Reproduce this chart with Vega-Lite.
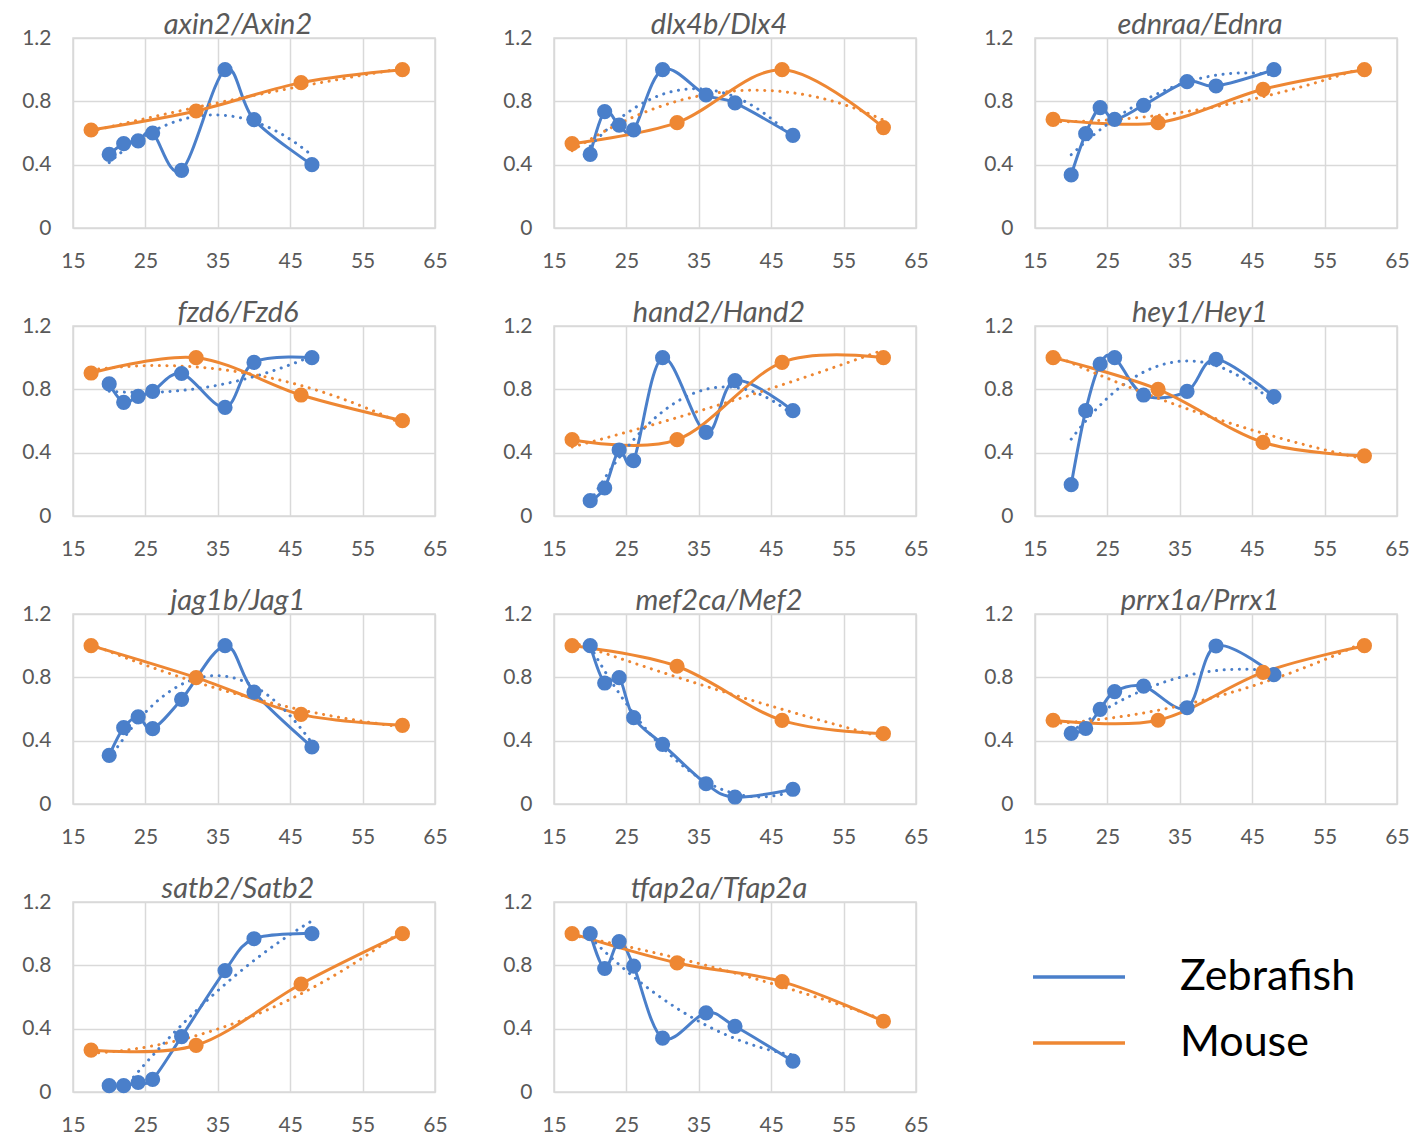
{
  "$schema": "https://vega.github.io/schema/vega-lite/v6.json",
  "background": "white",
  "padding": {"left": 20, "top": 10, "right": 5, "bottom": 5},
  "columns": 3,
  "spacing": {"row": 98, "column": 119},
  "bounds": "flush",
  "config": {
    "font": "Lato",
    "view": {"stroke": "#d9d9d9", "strokeWidth": 1.5},
    "axis": {"grid": true, "gridColor": "#d9d9d9", "gridWidth": 1.5, "domain": false, "ticks": false, "tickSize": 0, "labelFont": "Lato", "labelFontSize": 21, "labelColor": "#595959", "title": null, "labelPadding": 22, "labelFlush": false},
    "title": {"font": "Lato", "fontSize": 29, "fontStyle": "italic", "fontWeight": "normal", "color": "#595959", "baseline": "alphabetic", "offset": 1, "anchor": "middle", "dx": -16, "dy": 14}
  },
  "data": {"values": [
    {"gene": "axin2/Axin2", "species": "Zebrafish", "age": 20, "expr": 0.465},
    {"gene": "axin2/Axin2", "species": "Zebrafish", "age": 22, "expr": 0.533},
    {"gene": "axin2/Axin2", "species": "Zebrafish", "age": 24, "expr": 0.55},
    {"gene": "axin2/Axin2", "species": "Zebrafish", "age": 26, "expr": 0.6},
    {"gene": "axin2/Axin2", "species": "Zebrafish", "age": 30, "expr": 0.364},
    {"gene": "axin2/Axin2", "species": "Zebrafish", "age": 36, "expr": 1.0},
    {"gene": "axin2/Axin2", "species": "Zebrafish", "age": 40, "expr": 0.684},
    {"gene": "axin2/Axin2", "species": "Zebrafish", "age": 48, "expr": 0.4},
    {"gene": "axin2/Axin2", "species": "Mouse", "age": 17.5, "expr": 0.619},
    {"gene": "axin2/Axin2", "species": "Mouse", "age": 32, "expr": 0.739},
    {"gene": "axin2/Axin2", "species": "Mouse", "age": 46.5, "expr": 0.918},
    {"gene": "axin2/Axin2", "species": "Mouse", "age": 60.5, "expr": 1.0},
    {"gene": "dlx4b/Dlx4", "species": "Zebrafish", "age": 20, "expr": 0.465},
    {"gene": "dlx4b/Dlx4", "species": "Zebrafish", "age": 22, "expr": 0.735},
    {"gene": "dlx4b/Dlx4", "species": "Zebrafish", "age": 24, "expr": 0.65},
    {"gene": "dlx4b/Dlx4", "species": "Zebrafish", "age": 26, "expr": 0.62},
    {"gene": "dlx4b/Dlx4", "species": "Zebrafish", "age": 30, "expr": 1.0},
    {"gene": "dlx4b/Dlx4", "species": "Zebrafish", "age": 36, "expr": 0.84},
    {"gene": "dlx4b/Dlx4", "species": "Zebrafish", "age": 40, "expr": 0.79},
    {"gene": "dlx4b/Dlx4", "species": "Zebrafish", "age": 48, "expr": 0.585},
    {"gene": "dlx4b/Dlx4", "species": "Mouse", "age": 17.5, "expr": 0.533},
    {"gene": "dlx4b/Dlx4", "species": "Mouse", "age": 32, "expr": 0.665},
    {"gene": "dlx4b/Dlx4", "species": "Mouse", "age": 46.5, "expr": 1.0},
    {"gene": "dlx4b/Dlx4", "species": "Mouse", "age": 60.5, "expr": 0.634},
    {"gene": "ednraa/Ednra", "species": "Zebrafish", "age": 20, "expr": 0.335},
    {"gene": "ednraa/Ednra", "species": "Zebrafish", "age": 22, "expr": 0.596},
    {"gene": "ednraa/Ednra", "species": "Zebrafish", "age": 24, "expr": 0.76},
    {"gene": "ednraa/Ednra", "species": "Zebrafish", "age": 26, "expr": 0.686},
    {"gene": "ednraa/Ednra", "species": "Zebrafish", "age": 30, "expr": 0.775},
    {"gene": "ednraa/Ednra", "species": "Zebrafish", "age": 36, "expr": 0.924},
    {"gene": "ednraa/Ednra", "species": "Zebrafish", "age": 40, "expr": 0.897},
    {"gene": "ednraa/Ednra", "species": "Zebrafish", "age": 48, "expr": 1.0},
    {"gene": "ednraa/Ednra", "species": "Mouse", "age": 17.5, "expr": 0.686},
    {"gene": "ednraa/Ednra", "species": "Mouse", "age": 32, "expr": 0.665},
    {"gene": "ednraa/Ednra", "species": "Mouse", "age": 46.5, "expr": 0.876},
    {"gene": "ednraa/Ednra", "species": "Mouse", "age": 60.5, "expr": 1.0},
    {"gene": "fzd6/Fzd6", "species": "Zebrafish", "age": 20, "expr": 0.834},
    {"gene": "fzd6/Fzd6", "species": "Zebrafish", "age": 22, "expr": 0.718},
    {"gene": "fzd6/Fzd6", "species": "Zebrafish", "age": 24, "expr": 0.756},
    {"gene": "fzd6/Fzd6", "species": "Zebrafish", "age": 26, "expr": 0.787},
    {"gene": "fzd6/Fzd6", "species": "Zebrafish", "age": 30, "expr": 0.9},
    {"gene": "fzd6/Fzd6", "species": "Zebrafish", "age": 36, "expr": 0.686},
    {"gene": "fzd6/Fzd6", "species": "Zebrafish", "age": 40, "expr": 0.97},
    {"gene": "fzd6/Fzd6", "species": "Zebrafish", "age": 48, "expr": 1.0},
    {"gene": "fzd6/Fzd6", "species": "Mouse", "age": 17.5, "expr": 0.903},
    {"gene": "fzd6/Fzd6", "species": "Mouse", "age": 32, "expr": 1.0},
    {"gene": "fzd6/Fzd6", "species": "Mouse", "age": 46.5, "expr": 0.764},
    {"gene": "fzd6/Fzd6", "species": "Mouse", "age": 60.5, "expr": 0.602},
    {"gene": "hand2/Hand2", "species": "Zebrafish", "age": 20, "expr": 0.097},
    {"gene": "hand2/Hand2", "species": "Zebrafish", "age": 22, "expr": 0.177},
    {"gene": "hand2/Hand2", "species": "Zebrafish", "age": 24, "expr": 0.417},
    {"gene": "hand2/Hand2", "species": "Zebrafish", "age": 26, "expr": 0.35},
    {"gene": "hand2/Hand2", "species": "Zebrafish", "age": 30, "expr": 1.0},
    {"gene": "hand2/Hand2", "species": "Zebrafish", "age": 36, "expr": 0.528},
    {"gene": "hand2/Hand2", "species": "Zebrafish", "age": 40, "expr": 0.855},
    {"gene": "hand2/Hand2", "species": "Zebrafish", "age": 48, "expr": 0.665},
    {"gene": "hand2/Hand2", "species": "Mouse", "age": 17.5, "expr": 0.482},
    {"gene": "hand2/Hand2", "species": "Mouse", "age": 32, "expr": 0.482},
    {"gene": "hand2/Hand2", "species": "Mouse", "age": 46.5, "expr": 0.97},
    {"gene": "hand2/Hand2", "species": "Mouse", "age": 60.5, "expr": 1.0},
    {"gene": "hey1/Hey1", "species": "Zebrafish", "age": 20, "expr": 0.198},
    {"gene": "hey1/Hey1", "species": "Zebrafish", "age": 22, "expr": 0.665},
    {"gene": "hey1/Hey1", "species": "Zebrafish", "age": 24, "expr": 0.96},
    {"gene": "hey1/Hey1", "species": "Zebrafish", "age": 26, "expr": 1.0},
    {"gene": "hey1/Hey1", "species": "Zebrafish", "age": 30, "expr": 0.764},
    {"gene": "hey1/Hey1", "species": "Zebrafish", "age": 36, "expr": 0.787},
    {"gene": "hey1/Hey1", "species": "Zebrafish", "age": 40, "expr": 0.99},
    {"gene": "hey1/Hey1", "species": "Zebrafish", "age": 48, "expr": 0.754},
    {"gene": "hey1/Hey1", "species": "Mouse", "age": 17.5, "expr": 1.0},
    {"gene": "hey1/Hey1", "species": "Mouse", "age": 32, "expr": 0.8},
    {"gene": "hey1/Hey1", "species": "Mouse", "age": 46.5, "expr": 0.465},
    {"gene": "hey1/Hey1", "species": "Mouse", "age": 60.5, "expr": 0.38},
    {"gene": "jag1b/Jag1", "species": "Zebrafish", "age": 20, "expr": 0.307},
    {"gene": "jag1b/Jag1", "species": "Zebrafish", "age": 22, "expr": 0.482},
    {"gene": "jag1b/Jag1", "species": "Zebrafish", "age": 24, "expr": 0.55},
    {"gene": "jag1b/Jag1", "species": "Zebrafish", "age": 26, "expr": 0.476},
    {"gene": "jag1b/Jag1", "species": "Zebrafish", "age": 30, "expr": 0.661},
    {"gene": "jag1b/Jag1", "species": "Zebrafish", "age": 36, "expr": 1.0},
    {"gene": "jag1b/Jag1", "species": "Zebrafish", "age": 40, "expr": 0.707},
    {"gene": "jag1b/Jag1", "species": "Zebrafish", "age": 48, "expr": 0.36},
    {"gene": "jag1b/Jag1", "species": "Mouse", "age": 17.5, "expr": 1.0},
    {"gene": "jag1b/Jag1", "species": "Mouse", "age": 32, "expr": 0.798},
    {"gene": "jag1b/Jag1", "species": "Mouse", "age": 46.5, "expr": 0.566},
    {"gene": "jag1b/Jag1", "species": "Mouse", "age": 60.5, "expr": 0.497},
    {"gene": "mef2ca/Mef2", "species": "Zebrafish", "age": 20, "expr": 1.0},
    {"gene": "mef2ca/Mef2", "species": "Zebrafish", "age": 22, "expr": 0.764},
    {"gene": "mef2ca/Mef2", "species": "Zebrafish", "age": 24, "expr": 0.798},
    {"gene": "mef2ca/Mef2", "species": "Zebrafish", "age": 26, "expr": 0.545},
    {"gene": "mef2ca/Mef2", "species": "Zebrafish", "age": 30, "expr": 0.377},
    {"gene": "mef2ca/Mef2", "species": "Zebrafish", "age": 36, "expr": 0.128},
    {"gene": "mef2ca/Mef2", "species": "Zebrafish", "age": 40, "expr": 0.044},
    {"gene": "mef2ca/Mef2", "species": "Zebrafish", "age": 48, "expr": 0.093},
    {"gene": "mef2ca/Mef2", "species": "Mouse", "age": 17.5, "expr": 1.0},
    {"gene": "mef2ca/Mef2", "species": "Mouse", "age": 32, "expr": 0.87},
    {"gene": "mef2ca/Mef2", "species": "Mouse", "age": 46.5, "expr": 0.528},
    {"gene": "mef2ca/Mef2", "species": "Mouse", "age": 60.5, "expr": 0.444},
    {"gene": "prrx1a/Prrx1", "species": "Zebrafish", "age": 20, "expr": 0.446},
    {"gene": "prrx1a/Prrx1", "species": "Zebrafish", "age": 22, "expr": 0.477},
    {"gene": "prrx1a/Prrx1", "species": "Zebrafish", "age": 24, "expr": 0.598},
    {"gene": "prrx1a/Prrx1", "species": "Zebrafish", "age": 26, "expr": 0.71},
    {"gene": "prrx1a/Prrx1", "species": "Zebrafish", "age": 30, "expr": 0.744},
    {"gene": "prrx1a/Prrx1", "species": "Zebrafish", "age": 36, "expr": 0.608},
    {"gene": "prrx1a/Prrx1", "species": "Zebrafish", "age": 40, "expr": 0.998},
    {"gene": "prrx1a/Prrx1", "species": "Zebrafish", "age": 48, "expr": 0.817},
    {"gene": "prrx1a/Prrx1", "species": "Mouse", "age": 17.5, "expr": 0.529},
    {"gene": "prrx1a/Prrx1", "species": "Mouse", "age": 32, "expr": 0.529},
    {"gene": "prrx1a/Prrx1", "species": "Mouse", "age": 46.5, "expr": 0.831},
    {"gene": "prrx1a/Prrx1", "species": "Mouse", "age": 60.5, "expr": 1.0},
    {"gene": "satb2/Satb2", "species": "Zebrafish", "age": 20, "expr": 0.04},
    {"gene": "satb2/Satb2", "species": "Zebrafish", "age": 22, "expr": 0.04},
    {"gene": "satb2/Satb2", "species": "Zebrafish", "age": 24, "expr": 0.06},
    {"gene": "satb2/Satb2", "species": "Zebrafish", "age": 26, "expr": 0.08},
    {"gene": "satb2/Satb2", "species": "Zebrafish", "age": 30, "expr": 0.35},
    {"gene": "satb2/Satb2", "species": "Zebrafish", "age": 36, "expr": 0.767},
    {"gene": "satb2/Satb2", "species": "Zebrafish", "age": 40, "expr": 0.968},
    {"gene": "satb2/Satb2", "species": "Zebrafish", "age": 48, "expr": 1.0},
    {"gene": "satb2/Satb2", "species": "Mouse", "age": 17.5, "expr": 0.265},
    {"gene": "satb2/Satb2", "species": "Mouse", "age": 32, "expr": 0.295},
    {"gene": "satb2/Satb2", "species": "Mouse", "age": 46.5, "expr": 0.682},
    {"gene": "satb2/Satb2", "species": "Mouse", "age": 60.5, "expr": 1.0},
    {"gene": "tfap2a/Tfap2a", "species": "Zebrafish", "age": 20, "expr": 1.0},
    {"gene": "tfap2a/Tfap2a", "species": "Zebrafish", "age": 22, "expr": 0.78},
    {"gene": "tfap2a/Tfap2a", "species": "Zebrafish", "age": 24, "expr": 0.95},
    {"gene": "tfap2a/Tfap2a", "species": "Zebrafish", "age": 26, "expr": 0.795},
    {"gene": "tfap2a/Tfap2a", "species": "Zebrafish", "age": 30, "expr": 0.34},
    {"gene": "tfap2a/Tfap2a", "species": "Zebrafish", "age": 36, "expr": 0.5},
    {"gene": "tfap2a/Tfap2a", "species": "Zebrafish", "age": 40, "expr": 0.415},
    {"gene": "tfap2a/Tfap2a", "species": "Zebrafish", "age": 48, "expr": 0.195},
    {"gene": "tfap2a/Tfap2a", "species": "Mouse", "age": 17.5, "expr": 1.0},
    {"gene": "tfap2a/Tfap2a", "species": "Mouse", "age": 32, "expr": 0.815},
    {"gene": "tfap2a/Tfap2a", "species": "Mouse", "age": 46.5, "expr": 0.697},
    {"gene": "tfap2a/Tfap2a", "species": "Mouse", "age": 60.5, "expr": 0.447}
  ]},
  "concat": [
    {"title": "axin2/Axin2", "width": 362, "height": 190,
     "transform": [{"filter": {"field": "gene", "equal": "axin2/Axin2"}}],
     "encoding": {
       "x": {"field": "age", "type": "quantitative", "scale": {"domain": [15, 65], "nice": false, "zero": false}, "axis": {"values": [15, 25, 35, 45, 55, 65]}},
       "y": {"field": "expr", "type": "quantitative", "scale": {"domain": [0, 1.2], "nice": false}, "axis": {"values": [0, 0.4, 0.8, 1.2], "format": "~g"}},
       "color": {"field": "species", "type": "nominal", "scale": {"domain": ["Zebrafish", "Mouse"], "range": ["#4a7fca", "#ee8733"]}, "legend": null}
     },
     "layer": [
       {"mark": {"type": "line", "interpolate": "cardinal", "strokeWidth": 3},
        "encoding": {"color": {"field": "species", "type": "nominal", "scale": {"domain": ["Zebrafish", "Mouse"], "range": ["#4a7fca", "#ee8733"]},
          "legend": {"title": null, "orient": "none", "legendX": 981, "legendY": 914, "symbolType": "M-2,0H2", "symbolStrokeWidth": 3.5, "symbolSize": 2116, "labelFontSize": 43, "labelFont": "Lato", "labelColor": "#000000", "labelOffset": 76, "rowPadding": 19, "padding": 0, "labelLimit": 400}}}},
       {"transform": [{"regression": "expr", "on": "age", "groupby": ["species"], "method": "poly", "order": 2}],
        "mark": {"type": "line", "strokeWidth": 3, "strokeCap": "round", "strokeDash": [0.1, 7.5], "clip": true}},
       {"mark": {"type": "point", "filled": true, "size": 230, "opacity": 1}}
     ]},
    {"title": "dlx4b/Dlx4", "width": 362, "height": 190,
     "transform": [{"filter": {"field": "gene", "equal": "dlx4b/Dlx4"}}],
     "encoding": {
       "x": {"field": "age", "type": "quantitative", "scale": {"domain": [15, 65], "nice": false, "zero": false}, "axis": {"values": [15, 25, 35, 45, 55, 65]}},
       "y": {"field": "expr", "type": "quantitative", "scale": {"domain": [0, 1.2], "nice": false}, "axis": {"values": [0, 0.4, 0.8, 1.2], "format": "~g"}},
       "color": {"field": "species", "type": "nominal", "scale": {"domain": ["Zebrafish", "Mouse"], "range": ["#4a7fca", "#ee8733"]}, "legend": null}
     },
     "layer": [
       {"mark": {"type": "line", "interpolate": "cardinal", "strokeWidth": 3},
        "encoding": {"color": {"field": "species", "type": "nominal", "scale": {"domain": ["Zebrafish", "Mouse"], "range": ["#4a7fca", "#ee8733"]},
          "legend": {"title": null, "orient": "none", "legendX": 981, "legendY": 914, "symbolType": "M-2,0H2", "symbolStrokeWidth": 3.5, "symbolSize": 2116, "labelFontSize": 43, "labelFont": "Lato", "labelColor": "#000000", "labelOffset": 76, "rowPadding": 19, "padding": 0, "labelLimit": 400}}}},
       {"transform": [{"regression": "expr", "on": "age", "groupby": ["species"], "method": "poly", "order": 2}],
        "mark": {"type": "line", "strokeWidth": 3, "strokeCap": "round", "strokeDash": [0.1, 7.5], "clip": true}},
       {"mark": {"type": "point", "filled": true, "size": 230, "opacity": 1}}
     ]},
    {"title": "ednraa/Ednra", "width": 362, "height": 190,
     "transform": [{"filter": {"field": "gene", "equal": "ednraa/Ednra"}}],
     "encoding": {
       "x": {"field": "age", "type": "quantitative", "scale": {"domain": [15, 65], "nice": false, "zero": false}, "axis": {"values": [15, 25, 35, 45, 55, 65]}},
       "y": {"field": "expr", "type": "quantitative", "scale": {"domain": [0, 1.2], "nice": false}, "axis": {"values": [0, 0.4, 0.8, 1.2], "format": "~g"}},
       "color": {"field": "species", "type": "nominal", "scale": {"domain": ["Zebrafish", "Mouse"], "range": ["#4a7fca", "#ee8733"]}, "legend": null}
     },
     "layer": [
       {"mark": {"type": "line", "interpolate": "cardinal", "strokeWidth": 3},
        "encoding": {"color": {"field": "species", "type": "nominal", "scale": {"domain": ["Zebrafish", "Mouse"], "range": ["#4a7fca", "#ee8733"]},
          "legend": {"title": null, "orient": "none", "legendX": 981, "legendY": 914, "symbolType": "M-2,0H2", "symbolStrokeWidth": 3.5, "symbolSize": 2116, "labelFontSize": 43, "labelFont": "Lato", "labelColor": "#000000", "labelOffset": 76, "rowPadding": 19, "padding": 0, "labelLimit": 400}}}},
       {"transform": [{"regression": "expr", "on": "age", "groupby": ["species"], "method": "poly", "order": 2}],
        "mark": {"type": "line", "strokeWidth": 3, "strokeCap": "round", "strokeDash": [0.1, 7.5], "clip": true}},
       {"mark": {"type": "point", "filled": true, "size": 230, "opacity": 1}}
     ]},
    {"title": "fzd6/Fzd6", "width": 362, "height": 190,
     "transform": [{"filter": {"field": "gene", "equal": "fzd6/Fzd6"}}],
     "encoding": {
       "x": {"field": "age", "type": "quantitative", "scale": {"domain": [15, 65], "nice": false, "zero": false}, "axis": {"values": [15, 25, 35, 45, 55, 65]}},
       "y": {"field": "expr", "type": "quantitative", "scale": {"domain": [0, 1.2], "nice": false}, "axis": {"values": [0, 0.4, 0.8, 1.2], "format": "~g"}},
       "color": {"field": "species", "type": "nominal", "scale": {"domain": ["Zebrafish", "Mouse"], "range": ["#4a7fca", "#ee8733"]}, "legend": null}
     },
     "layer": [
       {"mark": {"type": "line", "interpolate": "cardinal", "strokeWidth": 3},
        "encoding": {"color": {"field": "species", "type": "nominal", "scale": {"domain": ["Zebrafish", "Mouse"], "range": ["#4a7fca", "#ee8733"]},
          "legend": {"title": null, "orient": "none", "legendX": 981, "legendY": 914, "symbolType": "M-2,0H2", "symbolStrokeWidth": 3.5, "symbolSize": 2116, "labelFontSize": 43, "labelFont": "Lato", "labelColor": "#000000", "labelOffset": 76, "rowPadding": 19, "padding": 0, "labelLimit": 400}}}},
       {"transform": [{"regression": "expr", "on": "age", "groupby": ["species"], "method": "poly", "order": 2}],
        "mark": {"type": "line", "strokeWidth": 3, "strokeCap": "round", "strokeDash": [0.1, 7.5], "clip": true}},
       {"mark": {"type": "point", "filled": true, "size": 230, "opacity": 1}}
     ]},
    {"title": "hand2/Hand2", "width": 362, "height": 190,
     "transform": [{"filter": {"field": "gene", "equal": "hand2/Hand2"}}],
     "encoding": {
       "x": {"field": "age", "type": "quantitative", "scale": {"domain": [15, 65], "nice": false, "zero": false}, "axis": {"values": [15, 25, 35, 45, 55, 65]}},
       "y": {"field": "expr", "type": "quantitative", "scale": {"domain": [0, 1.2], "nice": false}, "axis": {"values": [0, 0.4, 0.8, 1.2], "format": "~g"}},
       "color": {"field": "species", "type": "nominal", "scale": {"domain": ["Zebrafish", "Mouse"], "range": ["#4a7fca", "#ee8733"]}, "legend": null}
     },
     "layer": [
       {"mark": {"type": "line", "interpolate": "cardinal", "strokeWidth": 3},
        "encoding": {"color": {"field": "species", "type": "nominal", "scale": {"domain": ["Zebrafish", "Mouse"], "range": ["#4a7fca", "#ee8733"]},
          "legend": {"title": null, "orient": "none", "legendX": 981, "legendY": 914, "symbolType": "M-2,0H2", "symbolStrokeWidth": 3.5, "symbolSize": 2116, "labelFontSize": 43, "labelFont": "Lato", "labelColor": "#000000", "labelOffset": 76, "rowPadding": 19, "padding": 0, "labelLimit": 400}}}},
       {"transform": [{"regression": "expr", "on": "age", "groupby": ["species"], "method": "poly", "order": 2}],
        "mark": {"type": "line", "strokeWidth": 3, "strokeCap": "round", "strokeDash": [0.1, 7.5], "clip": true}},
       {"mark": {"type": "point", "filled": true, "size": 230, "opacity": 1}}
     ]},
    {"title": "hey1/Hey1", "width": 362, "height": 190,
     "transform": [{"filter": {"field": "gene", "equal": "hey1/Hey1"}}],
     "encoding": {
       "x": {"field": "age", "type": "quantitative", "scale": {"domain": [15, 65], "nice": false, "zero": false}, "axis": {"values": [15, 25, 35, 45, 55, 65]}},
       "y": {"field": "expr", "type": "quantitative", "scale": {"domain": [0, 1.2], "nice": false}, "axis": {"values": [0, 0.4, 0.8, 1.2], "format": "~g"}},
       "color": {"field": "species", "type": "nominal", "scale": {"domain": ["Zebrafish", "Mouse"], "range": ["#4a7fca", "#ee8733"]}, "legend": null}
     },
     "layer": [
       {"mark": {"type": "line", "interpolate": "cardinal", "strokeWidth": 3},
        "encoding": {"color": {"field": "species", "type": "nominal", "scale": {"domain": ["Zebrafish", "Mouse"], "range": ["#4a7fca", "#ee8733"]},
          "legend": {"title": null, "orient": "none", "legendX": 981, "legendY": 914, "symbolType": "M-2,0H2", "symbolStrokeWidth": 3.5, "symbolSize": 2116, "labelFontSize": 43, "labelFont": "Lato", "labelColor": "#000000", "labelOffset": 76, "rowPadding": 19, "padding": 0, "labelLimit": 400}}}},
       {"transform": [{"regression": "expr", "on": "age", "groupby": ["species"], "method": "poly", "order": 2}],
        "mark": {"type": "line", "strokeWidth": 3, "strokeCap": "round", "strokeDash": [0.1, 7.5], "clip": true}},
       {"mark": {"type": "point", "filled": true, "size": 230, "opacity": 1}}
     ]},
    {"title": "jag1b/Jag1", "width": 362, "height": 190,
     "transform": [{"filter": {"field": "gene", "equal": "jag1b/Jag1"}}],
     "encoding": {
       "x": {"field": "age", "type": "quantitative", "scale": {"domain": [15, 65], "nice": false, "zero": false}, "axis": {"values": [15, 25, 35, 45, 55, 65]}},
       "y": {"field": "expr", "type": "quantitative", "scale": {"domain": [0, 1.2], "nice": false}, "axis": {"values": [0, 0.4, 0.8, 1.2], "format": "~g"}},
       "color": {"field": "species", "type": "nominal", "scale": {"domain": ["Zebrafish", "Mouse"], "range": ["#4a7fca", "#ee8733"]}, "legend": null}
     },
     "layer": [
       {"mark": {"type": "line", "interpolate": "cardinal", "strokeWidth": 3},
        "encoding": {"color": {"field": "species", "type": "nominal", "scale": {"domain": ["Zebrafish", "Mouse"], "range": ["#4a7fca", "#ee8733"]},
          "legend": {"title": null, "orient": "none", "legendX": 981, "legendY": 914, "symbolType": "M-2,0H2", "symbolStrokeWidth": 3.5, "symbolSize": 2116, "labelFontSize": 43, "labelFont": "Lato", "labelColor": "#000000", "labelOffset": 76, "rowPadding": 19, "padding": 0, "labelLimit": 400}}}},
       {"transform": [{"regression": "expr", "on": "age", "groupby": ["species"], "method": "poly", "order": 2}],
        "mark": {"type": "line", "strokeWidth": 3, "strokeCap": "round", "strokeDash": [0.1, 7.5], "clip": true}},
       {"mark": {"type": "point", "filled": true, "size": 230, "opacity": 1}}
     ]},
    {"title": "mef2ca/Mef2", "width": 362, "height": 190,
     "transform": [{"filter": {"field": "gene", "equal": "mef2ca/Mef2"}}],
     "encoding": {
       "x": {"field": "age", "type": "quantitative", "scale": {"domain": [15, 65], "nice": false, "zero": false}, "axis": {"values": [15, 25, 35, 45, 55, 65]}},
       "y": {"field": "expr", "type": "quantitative", "scale": {"domain": [0, 1.2], "nice": false}, "axis": {"values": [0, 0.4, 0.8, 1.2], "format": "~g"}},
       "color": {"field": "species", "type": "nominal", "scale": {"domain": ["Zebrafish", "Mouse"], "range": ["#4a7fca", "#ee8733"]}, "legend": null}
     },
     "layer": [
       {"mark": {"type": "line", "interpolate": "cardinal", "strokeWidth": 3},
        "encoding": {"color": {"field": "species", "type": "nominal", "scale": {"domain": ["Zebrafish", "Mouse"], "range": ["#4a7fca", "#ee8733"]},
          "legend": {"title": null, "orient": "none", "legendX": 981, "legendY": 914, "symbolType": "M-2,0H2", "symbolStrokeWidth": 3.5, "symbolSize": 2116, "labelFontSize": 43, "labelFont": "Lato", "labelColor": "#000000", "labelOffset": 76, "rowPadding": 19, "padding": 0, "labelLimit": 400}}}},
       {"transform": [{"regression": "expr", "on": "age", "groupby": ["species"], "method": "poly", "order": 2}],
        "mark": {"type": "line", "strokeWidth": 3, "strokeCap": "round", "strokeDash": [0.1, 7.5], "clip": true}},
       {"mark": {"type": "point", "filled": true, "size": 230, "opacity": 1}}
     ]},
    {"title": "prrx1a/Prrx1", "width": 362, "height": 190,
     "transform": [{"filter": {"field": "gene", "equal": "prrx1a/Prrx1"}}],
     "encoding": {
       "x": {"field": "age", "type": "quantitative", "scale": {"domain": [15, 65], "nice": false, "zero": false}, "axis": {"values": [15, 25, 35, 45, 55, 65]}},
       "y": {"field": "expr", "type": "quantitative", "scale": {"domain": [0, 1.2], "nice": false}, "axis": {"values": [0, 0.4, 0.8, 1.2], "format": "~g"}},
       "color": {"field": "species", "type": "nominal", "scale": {"domain": ["Zebrafish", "Mouse"], "range": ["#4a7fca", "#ee8733"]}, "legend": null}
     },
     "layer": [
       {"mark": {"type": "line", "interpolate": "cardinal", "strokeWidth": 3},
        "encoding": {"color": {"field": "species", "type": "nominal", "scale": {"domain": ["Zebrafish", "Mouse"], "range": ["#4a7fca", "#ee8733"]},
          "legend": {"title": null, "orient": "none", "legendX": 981, "legendY": 914, "symbolType": "M-2,0H2", "symbolStrokeWidth": 3.5, "symbolSize": 2116, "labelFontSize": 43, "labelFont": "Lato", "labelColor": "#000000", "labelOffset": 76, "rowPadding": 19, "padding": 0, "labelLimit": 400}}}},
       {"transform": [{"regression": "expr", "on": "age", "groupby": ["species"], "method": "poly", "order": 2}],
        "mark": {"type": "line", "strokeWidth": 3, "strokeCap": "round", "strokeDash": [0.1, 7.5], "clip": true}},
       {"mark": {"type": "point", "filled": true, "size": 230, "opacity": 1}}
     ]},
    {"title": "satb2/Satb2", "width": 362, "height": 190,
     "transform": [{"filter": {"field": "gene", "equal": "satb2/Satb2"}}],
     "encoding": {
       "x": {"field": "age", "type": "quantitative", "scale": {"domain": [15, 65], "nice": false, "zero": false}, "axis": {"values": [15, 25, 35, 45, 55, 65]}},
       "y": {"field": "expr", "type": "quantitative", "scale": {"domain": [0, 1.2], "nice": false}, "axis": {"values": [0, 0.4, 0.8, 1.2], "format": "~g"}},
       "color": {"field": "species", "type": "nominal", "scale": {"domain": ["Zebrafish", "Mouse"], "range": ["#4a7fca", "#ee8733"]}, "legend": null}
     },
     "layer": [
       {"mark": {"type": "line", "interpolate": "cardinal", "strokeWidth": 3},
        "encoding": {"color": {"field": "species", "type": "nominal", "scale": {"domain": ["Zebrafish", "Mouse"], "range": ["#4a7fca", "#ee8733"]},
          "legend": {"title": null, "orient": "none", "legendX": 981, "legendY": 914, "symbolType": "M-2,0H2", "symbolStrokeWidth": 3.5, "symbolSize": 2116, "labelFontSize": 43, "labelFont": "Lato", "labelColor": "#000000", "labelOffset": 76, "rowPadding": 19, "padding": 0, "labelLimit": 400}}}},
       {"transform": [{"regression": "expr", "on": "age", "groupby": ["species"], "method": "poly", "order": 2}],
        "mark": {"type": "line", "strokeWidth": 3, "strokeCap": "round", "strokeDash": [0.1, 7.5], "clip": true}},
       {"mark": {"type": "point", "filled": true, "size": 230, "opacity": 1}}
     ]},
    {"title": "tfap2a/Tfap2a", "width": 362, "height": 190,
     "transform": [{"filter": {"field": "gene", "equal": "tfap2a/Tfap2a"}}],
     "encoding": {
       "x": {"field": "age", "type": "quantitative", "scale": {"domain": [15, 65], "nice": false, "zero": false}, "axis": {"values": [15, 25, 35, 45, 55, 65]}},
       "y": {"field": "expr", "type": "quantitative", "scale": {"domain": [0, 1.2], "nice": false}, "axis": {"values": [0, 0.4, 0.8, 1.2], "format": "~g"}},
       "color": {"field": "species", "type": "nominal", "scale": {"domain": ["Zebrafish", "Mouse"], "range": ["#4a7fca", "#ee8733"]}, "legend": null}
     },
     "layer": [
       {"mark": {"type": "line", "interpolate": "cardinal", "strokeWidth": 3},
        "encoding": {"color": {"field": "species", "type": "nominal", "scale": {"domain": ["Zebrafish", "Mouse"], "range": ["#4a7fca", "#ee8733"]},
          "legend": {"title": null, "orient": "none", "legendX": 981, "legendY": 914, "symbolType": "M-2,0H2", "symbolStrokeWidth": 3.5, "symbolSize": 2116, "labelFontSize": 43, "labelFont": "Lato", "labelColor": "#000000", "labelOffset": 76, "rowPadding": 19, "padding": 0, "labelLimit": 400}}}},
       {"transform": [{"regression": "expr", "on": "age", "groupby": ["species"], "method": "poly", "order": 2}],
        "mark": {"type": "line", "strokeWidth": 3, "strokeCap": "round", "strokeDash": [0.1, 7.5], "clip": true}},
       {"mark": {"type": "point", "filled": true, "size": 230, "opacity": 1}}
     ]}
  ]
}
